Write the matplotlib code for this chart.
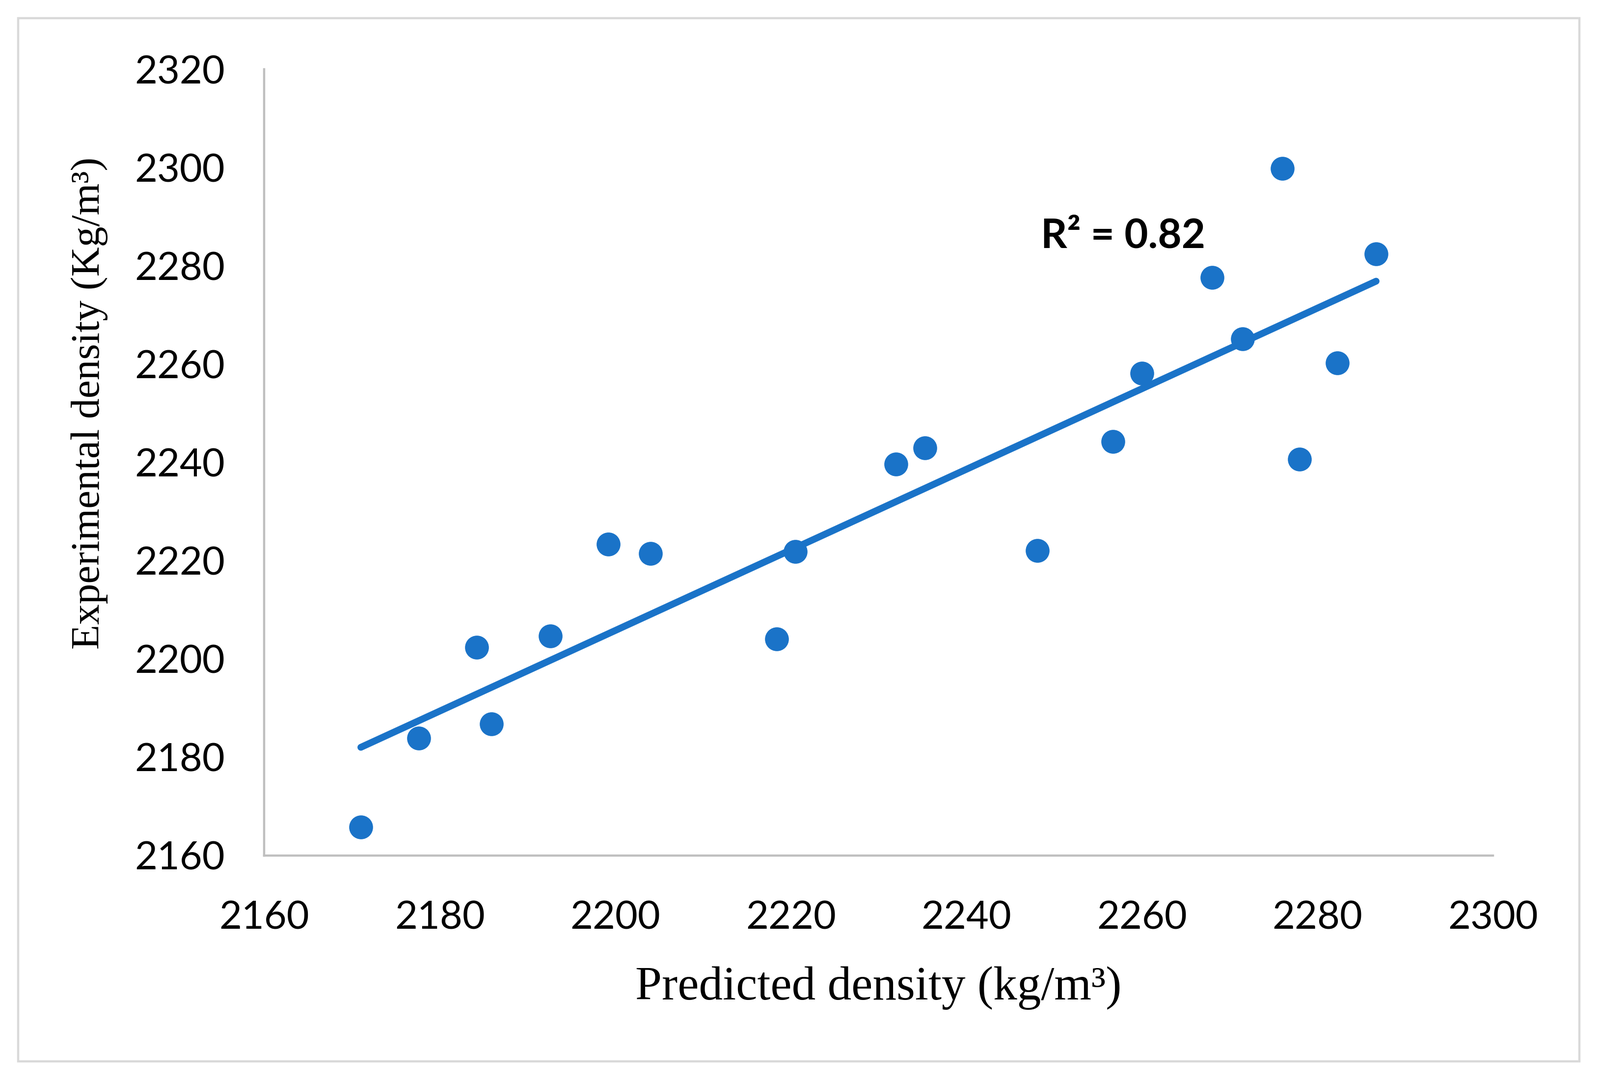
import numpy as np
import matplotlib.pyplot as plt
from matplotlib.patches import Rectangle

# predicted vs experimental density
predicted = [2171.0, 2177.6, 2184.2, 2185.9, 2192.6, 2199.2, 2204.0, 2218.4, 2220.5, 2232.0,
             2235.3, 2248.1, 2256.7, 2260.0, 2268.0, 2271.5, 2276.0, 2278.0, 2282.3, 2286.7]
experimental = [2165.8, 2183.9, 2202.4, 2186.8, 2204.7, 2223.4, 2221.5, 2204.1, 2221.9, 2239.6,
                2242.9, 2222.1, 2244.2, 2258.1, 2277.6, 2265.1, 2299.8, 2240.6, 2260.2, 2282.4]
xticks = [2160, 2180, 2200, 2220, 2240, 2260, 2280, 2300]
yticks = [2160, 2180, 2200, 2220, 2240, 2260, 2280, 2300, 2320]
r2_text = "R² = 0.82"

blue = '#1a73c8'

fig = plt.figure(figsize=(3259 / 200, 2201 / 200), dpi=200)
ax = fig.add_axes([0.1652, 0.2087, 0.9330 - 0.1652, 0.9358 - 0.2087])

# outer frame
fig.patches.append(Rectangle((0.0115, 0.018), 0.987 - 0.0115, 0.983 - 0.018,
                             transform=fig.transFigure, fill=False,
                             edgecolor='#d9d9d9', linewidth=1.6))

x = np.array(predicted)
y = np.array(experimental)
ax.scatter(x, y, s=17.5 ** 2, color=blue, zorder=3, linewidths=0)

# linear trendline
pf = np.polyfit(x, y, 1)
f = np.poly1d(pf)
fx = np.linspace(x.min(), x.max(), 50)
ax.plot(fx, f(fx), color=blue, linewidth=5, solid_capstyle='round', zorder=2)

ax.set_xlim(2160, 2300)
ax.set_ylim(2160, 2320)
ax.set_xticks(xticks)
ax.set_yticks(yticks)
ax.set_xticklabels([str(t) for t in xticks], fontfamily='Lato', fontsize=28.5)
ax.set_yticklabels([str(t) for t in yticks], fontfamily='Lato', fontsize=28.5)
ax.tick_params(length=0, pad=29)
ax.tick_params(axis='x', pad=33)

for s in ['top', 'right']:
    ax.spines[s].set_visible(False)
for s in ['left', 'bottom']:
    ax.spines[s].set_color('#bfbfbf')
    ax.spines[s].set_linewidth(1.6)

ax.text(2248.5, 2286, r2_text, fontfamily='Lato', fontweight='bold', fontsize=30,
        ha='left', va='center')

fig.text(0.549, 0.086, 'Predicted density (kg/m³)', fontfamily='Liberation Serif',
         fontsize=35, ha='center', va='center')
fig.text(0.056, 0.627, 'Experimental density (Kg/m³)', fontfamily='Liberation Serif',
         fontsize=30, ha='center', va='center', rotation=90)

fig.savefig('out.png', dpi=200)
